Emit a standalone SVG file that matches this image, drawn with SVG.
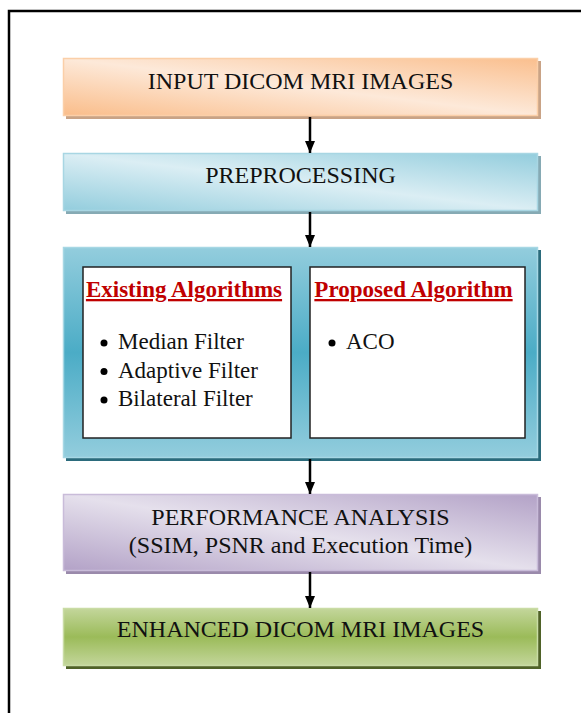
<svg xmlns="http://www.w3.org/2000/svg" width="581" height="713" viewBox="0 0 581 713">
<style>
.t{font-family:"Liberation Serif","Times New Roman",serif;font-size:24px;fill:#111;text-anchor:middle}
.b{font-family:"Liberation Serif","Times New Roman",serif;font-size:23px;fill:#111}
.h{font-family:"Liberation Serif","Times New Roman",serif;font-size:23px;font-weight:bold;fill:#c00000;text-anchor:middle;text-decoration:underline}
.inner{fill:#fff;stroke:#222;stroke-width:1.5}
.conn{stroke:#000;stroke-width:2.5;fill:none}
</style>
<defs>
<linearGradient id="gO" x1="0" y1="1" x2="1" y2="0"><stop offset="0" stop-color="#fabd8a"/><stop offset="0.5" stop-color="#fde9d9"/><stop offset="1" stop-color="#fabf8e"/></linearGradient>
<linearGradient id="gB" x1="0" y1="1" x2="1" y2="0"><stop offset="0" stop-color="#93cddd"/><stop offset="0.5" stop-color="#dbeef4"/><stop offset="1" stop-color="#93cddd"/></linearGradient>
<linearGradient id="gC" x1="0" y1="0" x2="0" y2="1"><stop offset="0" stop-color="#93cddd"/><stop offset="0.5" stop-color="#4bacc6"/><stop offset="1" stop-color="#93cddd"/></linearGradient>
<linearGradient id="gP" x1="0" y1="1" x2="1" y2="0"><stop offset="0" stop-color="#b3a2c7"/><stop offset="0.5" stop-color="#e5e0ec"/><stop offset="1" stop-color="#b3a2c7"/></linearGradient>
<linearGradient id="gG" x1="0" y1="0" x2="0" y2="1"><stop offset="0" stop-color="#c3d69b"/><stop offset="0.5" stop-color="#9bbb59"/><stop offset="1" stop-color="#c3d69b"/></linearGradient>
<marker id="ah" viewBox="0 0 12 10" refX="12" refY="5" markerWidth="12" markerHeight="10" markerUnits="userSpaceOnUse" orient="auto"><path d="M0,0 L12,5 L0,10 Z" fill="#000"/></marker>
</defs>
<rect width="581" height="713" fill="#fff"/>
<path d="M9,720 L9,11 L590,11" fill="none" stroke="#000" stroke-width="2.5"/>

<g id="input">
<rect x="66" y="61" width="475" height="58" fill="#c9a386"/>
<rect x="63.5" y="58.5" width="474" height="57" fill="url(#gO)" stroke="#fbcfa8" stroke-width="1.5"/>
<text class="t" x="300.5" y="89">INPUT DICOM MRI IMAGES</text>
</g>

<g id="preprocessing">
<rect x="66" y="156" width="475" height="58" fill="#86aab4"/>
<rect x="63.5" y="153.5" width="474" height="57" fill="url(#gB)" stroke="#a8d6e3" stroke-width="1.5"/>
<text class="t" x="300.5" y="183">PREPROCESSING</text>
</g>

<g id="algorithms">
<rect x="66" y="250" width="475" height="211" fill="#2b6b7c"/>
<rect x="63.5" y="247.5" width="474" height="210" fill="url(#gC)" stroke="#a6d7e4" stroke-width="1.5"/>
<rect class="inner" x="83" y="267" width="208" height="171"/>
<rect class="inner" x="310" y="267" width="215" height="171"/>
<text class="h" x="184" y="297">Existing Algorithms</text>
<text class="h" x="413.5" y="297">Proposed Algorithm</text>
<circle cx="104" cy="343" r="3.5" fill="#000"/>
<circle cx="104" cy="371.5" r="3.5" fill="#000"/>
<circle cx="104" cy="400" r="3.5" fill="#000"/>
<text class="b" x="118" y="349">Median Filter</text>
<text class="b" x="118" y="378">Adaptive Filter</text>
<text class="b" x="118" y="406">Bilateral Filter</text>
<circle cx="332" cy="343" r="3.5" fill="#000"/>
<text class="b" x="346" y="349">ACO</text>
</g>

<g id="performance">
<rect x="66" y="497" width="475" height="77" fill="#9a8aab"/>
<rect x="63.5" y="494.5" width="474" height="76" fill="url(#gP)" stroke="#c9bcd9" stroke-width="1.5"/>
<text class="t" x="300.5" y="525">PERFORMANCE ANALYSIS</text>
<text class="t" x="300.5" y="553">(SSIM, PSNR and Execution Time)</text>
</g>

<g id="enhanced">
<rect x="66" y="611" width="475" height="58" fill="#4f6228"/>
<rect x="63.5" y="608.5" width="474" height="57" fill="url(#gG)" stroke="#c9dca5" stroke-width="1.5"/>
<text class="t" x="300.5" y="637">ENHANCED DICOM MRI IMAGES</text>
</g>

<g id="connectors">
<line class="conn" x1="310" y1="117" x2="310" y2="153" marker-end="url(#ah)"/>
<line class="conn" x1="310" y1="212" x2="310" y2="247" marker-end="url(#ah)"/>
<line class="conn" x1="310" y1="459" x2="310" y2="494" marker-end="url(#ah)"/>
<line class="conn" x1="310" y1="572" x2="310" y2="608" marker-end="url(#ah)"/>
</g>
</svg>
